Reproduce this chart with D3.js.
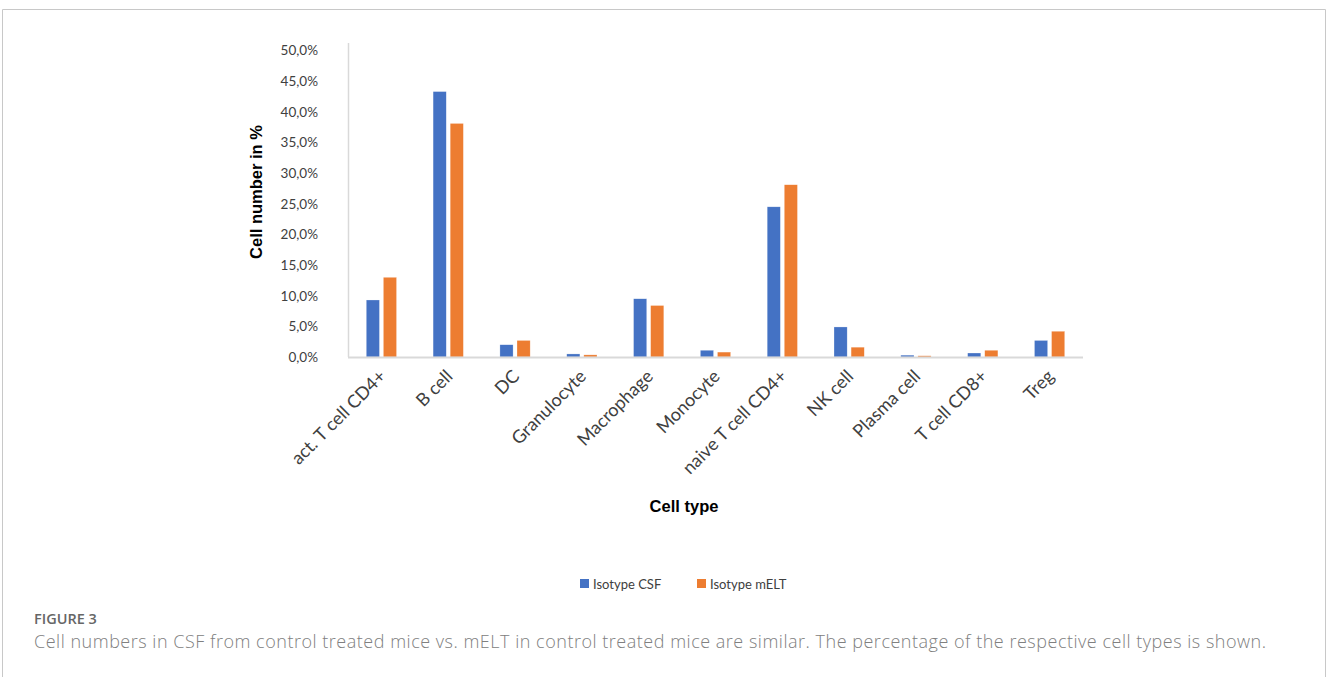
<!DOCTYPE html>
<html>
<head>
<meta charset="utf-8">
<script src="https://cdn.jsdelivr.net/npm/d3@7"></script>
<style>
  html, body { margin: 0; padding: 0; background: #fff; }
  svg { display: block; }
</style>
</head>
<body>
<svg id="chart" width="1328" height="677"></svg>
<script>
// Cell type categories and percentages for each group
const categories = ["act. T cell CD4+", "B cell", "DC", "Granulocyte", "Macrophage", "Monocyte",
                    "naive T cell CD4+", "NK cell", "Plasma cell", "T cell CD8+", "Treg"];
const isotypeCSF  = [9.3, 43.3, 2.0, 0.5, 9.5, 1.1, 24.5, 4.9, 0.3, 0.65, 2.7];
const isotypeMELT = [13.0, 38.1, 2.7, 0.35, 8.4, 0.8, 28.1, 1.6, 0.2, 1.1, 4.2];
const seriesNames = ["Isotype CSF", "Isotype mELT"];
const seriesColors = ["#4472c4", "#ed7d31"];
const yTicks = [0, 5, 10, 15, 20, 25, 30, 35, 40, 45, 50];

const svg = d3.select("#chart");
const tickFont = "Lato, 'Open Sans', sans-serif";
const titleFont = "'Liberation Sans', Arial, sans-serif";

// Figure frame
svg.append("path")
  .attr("d", "M2.5,690 L2.5,9.5 L1325.5,9.5 L1325.5,690")
  .attr("fill", "none").attr("stroke", "#c8c8c8").attr("stroke-width", 1);

const plot = { left: 348, right: 1083, top: 43, bottom: 357 };

const x0 = d3.scaleBand().domain(categories).range([plot.left, plot.right]).paddingInner(0).paddingOuter(0);
const x1 = d3.scaleBand().domain(seriesNames).range([0, x0.bandwidth()]).paddingInner(0.23).paddingOuter(1.07);
const y = d3.scaleLinear().domain([0, 50]).range([plot.bottom, 50.5]);

const fmt = v => d3.format(".1f")(v).replace(".", ",") + "%";

// Y axis line
svg.append("line")
  .attr("x1", plot.left + 0.5).attr("x2", plot.left + 0.5)
  .attr("y1", plot.top).attr("y2", plot.bottom)
  .attr("stroke", "#d9d9d9").attr("stroke-width", 1.5);

// Y tick labels
const yAxis = d3.axisLeft(y).tickValues(yTicks).tickFormat(fmt).tickSize(0).tickPadding(0);
const yG = svg.append("g").attr("transform", `translate(${plot.left - 30},0)`).call(yAxis);
yG.select(".domain").remove();
yG.selectAll("text")
  .attr("font-family", tickFont).attr("font-size", 13.5).attr("fill", "#404040")
  .attr("text-anchor", "end").attr("dx", 0);

// Bars
const data = categories.map((c, i) => ({ cat: c, values: [isotypeCSF[i], isotypeMELT[i]] }));
const groups = svg.append("g").selectAll("g").data(data).join("g")
  .attr("transform", d => `translate(${x0(d.cat)},0)`);
groups.selectAll("rect")
  .data(d => d.values.map((v, k) => ({ name: seriesNames[k], v, k })))
  .join("rect")
  .attr("x", d => x1(d.name))
  .attr("width", x1.bandwidth())
  .attr("y", d => y(d.v))
  .attr("height", d => y(0) - y(d.v))
  .attr("fill", d => seriesColors[d.k])
  .attr("stroke", "#ffffff").attr("stroke-opacity", 0.5).attr("stroke-width", 0.5);

// X axis line
svg.append("line")
  .attr("x1", plot.left).attr("x2", plot.right)
  .attr("y1", plot.bottom + 0.5).attr("y2", plot.bottom + 0.5)
  .attr("stroke", "#d9d9d9").attr("stroke-width", 2);

// X tick labels, rotated
const xAxis = d3.axisBottom(x0).tickSize(0).tickPadding(0);
const xG = svg.append("g").attr("transform", `translate(0,${plot.bottom})`).call(xAxis);
xG.select(".domain").remove();
xG.selectAll("text")
  .attr("font-family", tickFont).attr("font-size", 18).attr("fill", "#404040")
  .attr("text-anchor", "end")
  .attr("dy", "0.35em")
  .attr("transform", "translate(1,16) rotate(-45)");

// Axis titles
svg.append("text")
  .attr("transform", `translate(262,192) rotate(-90)`)
  .attr("text-anchor", "middle")
  .attr("font-family", titleFont).attr("font-weight", "bold").attr("font-size", 16.5).attr("fill", "#000")
  .text("Cell number in %");

svg.append("text")
  .attr("x", 684).attr("y", 512)
  .attr("text-anchor", "middle")
  .attr("font-family", titleFont).attr("font-weight", "bold").attr("font-size", 16.5).attr("fill", "#000")
  .text("Cell type");

// Legend
const legendX = [580, 697];
const legend = svg.append("g").selectAll("g").data(seriesNames).join("g")
  .attr("transform", (d, i) => `translate(${legendX[i]},579)`);
legend.append("rect").attr("width", 9).attr("height", 9).attr("fill", (d, i) => seriesColors[i]);
legend.append("text")
  .attr("x", 13).attr("y", 9.5)
  .attr("font-family", tickFont).attr("font-size", 13).attr("fill", "#404040")
  .text(d => d);

// Caption
svg.append("text")
  .attr("x", 34).attr("y", 624)
  .attr("font-family", "'Open Sans', sans-serif").attr("font-size", 14.5).attr("font-weight", 600)
  .attr("fill", "#666")
  .text("FIGURE 3");
svg.append("text")
  .attr("x", 34).attr("y", 648)
  .attr("font-family", "'Open Sans', sans-serif").attr("font-size", 18).attr("font-weight", 300)
  .attr("fill", "#808080")
  .attr("textLength", 1232).attr("lengthAdjust", "spacing")
  .text("Cell numbers in CSF from control treated mice vs. mELT in control treated mice are similar. The percentage of the respective cell types is shown.");
</script>
</body>
</html>
